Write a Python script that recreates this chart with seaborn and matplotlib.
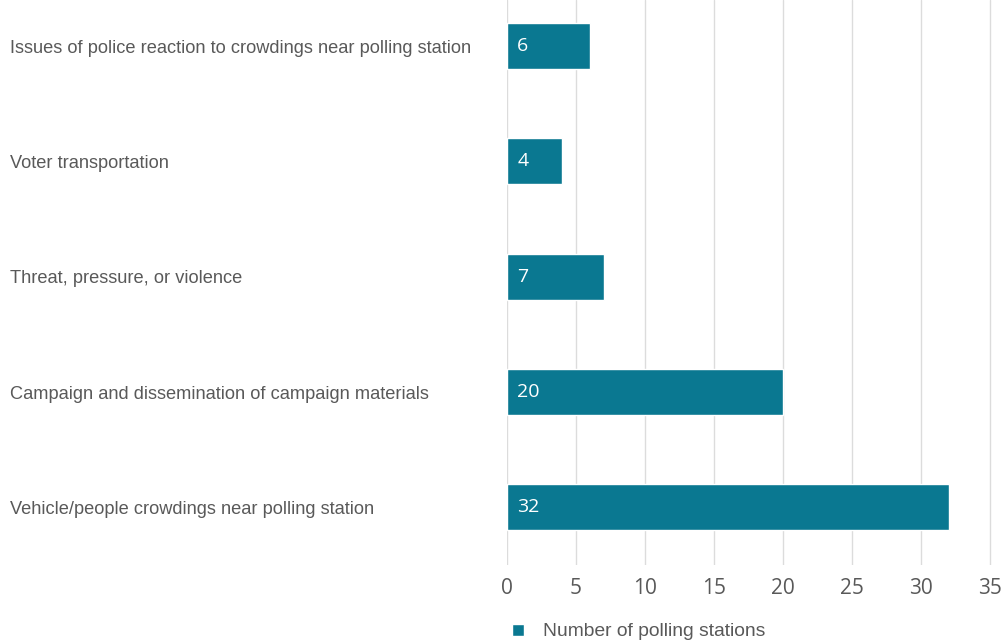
import matplotlib
matplotlib.use("Agg")
import matplotlib.pyplot as plt
import pandas as pd
import seaborn as sns

# data
categories = [
    "Issues of police reaction to crowdings near polling station",
    "Voter transportation",
    "Threat, pressure, or violence",
    "Campaign and dissemination of campaign materials",
    "Vehicle/people crowdings near polling station",
]
counts = [6, 4, 7, 20, 32]
series_name = "Number of polling stations"
x_ticks = [0, 5, 10, 15, 20, 25, 30, 35]

bar_color = "#0a7891"
label_font = "Liberation Sans"
num_font = "Open Sans"

df = pd.DataFrame({"category": categories, "count": counts})

sns.set_style("white")
fig = plt.figure(figsize=(10.01, 6.42), dpi=100)
ax = fig.add_axes([507 / 1001, 1 - 565 / 642, (990 - 507) / 1001 * 36 / 35, 565 / 642])

sns.barplot(data=df, x="count", y="category", orient="h", color=bar_color,
            width=0.4, saturation=1, ax=ax, label=series_name)
if ax.get_legend() is not None:
    ax.get_legend().remove()

ax.set_xlim(0, 36)
ax.set_ylim(4.5, -0.4)
ax.set_xticks(x_ticks)
ax.xaxis.grid(True, color="#dcdcdc", linewidth=1)
ax.set_axisbelow(True)
for s in ax.spines.values():
    s.set_visible(False)
ax.set_xlabel("")
ax.set_ylabel("")

ax.tick_params(axis="x", length=0, pad=9, labelsize=15, labelcolor="#595959")
for t in ax.get_xticklabels():
    t.set_fontfamily(num_font)

ax.tick_params(axis="y", length=0, pad=497 * 0.72, labelsize=13.15, labelcolor="#595959")
for t in ax.get_yticklabels():
    t.set_horizontalalignment("left")
    t.set_fontfamily(label_font)

for i, v in enumerate(counts):
    ax.text(0.75, i, str(v), color="white", va="center", ha="left",
            fontsize=14, family=num_font)

leg = fig.legend(loc="center left", bbox_to_anchor=(495 / 1001, 1 - 632 / 642),
                 frameon=False, handlelength=0.6, handleheight=0.6,
                 handletextpad=1.0, prop={"family": label_font, "size": 13.9})
for t in leg.get_texts():
    t.set_color("#595959")

fig.savefig("out.png", dpi=100)
